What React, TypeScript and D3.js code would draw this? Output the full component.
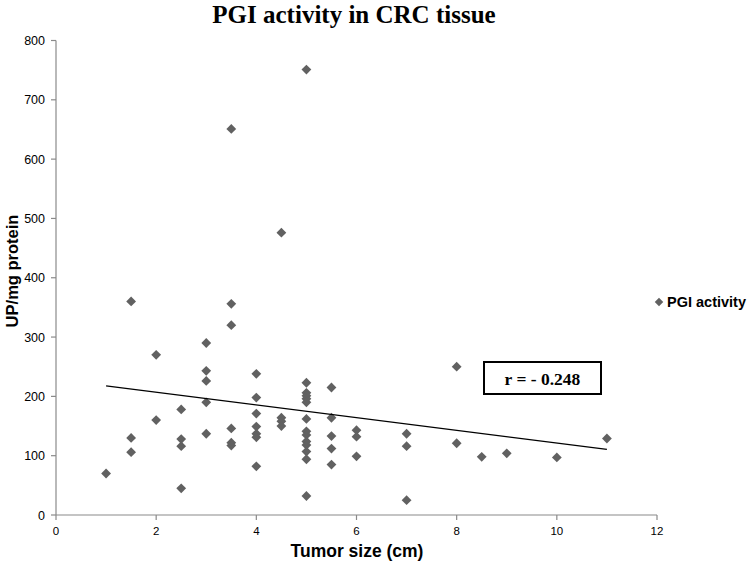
import React from "react";
import * as d3 from "d3";

const W = 753;
const H = 566;

const title = "PGI activity in CRC tissue";
const xTitle = "Tumor size (cm)";
const yTitle = "UP/mg protein";
const seriesName = "PGI activity";
const rLabel = "r = - 0.248";

const xTicks = [0, 2, 4, 6, 8, 10, 12];
const yTicks = [0, 100, 200, 300, 400, 500, 600, 700, 800];

// tumor size (cm) for each group, and the PGI activity values measured at that size
const sizes = [1, 1.5, 2, 2.5, 3, 3.5, 4, 4.5, 5, 5.5, 6, 7, 8, 8.5, 9, 10, 11];
const activity: number[][] = [
  [70],
  [360, 130, 106],
  [270, 160],
  [178, 128, 116, 45],
  [290, 243, 226, 190, 137],
  [651, 356, 320, 146, 122, 117],
  [238, 198, 171, 149, 137, 131, 82],
  [476, 164, 158, 150],
  [751, 223, 206, 201, 196, 190, 162, 141, 135, 124, 118, 107, 94, 32],
  [215, 164, 133, 112, 85],
  [143, 132, 99],
  [137, 116, 25],
  [250, 121],
  [98],
  [104],
  [97],
  [129],
];

export default function App() {
  const x = d3.scaleLinear().domain([0, 12]).range([56, 657]);
  const y = d3.scaleLinear().domain([0, 800]).range([515, 40.5]);

  const points = sizes.flatMap((s, i) => activity[i].map((v) => ({ s, v })));

  // least squares trend line
  const mx = d3.mean(points, (p) => p.s) as number;
  const my = d3.mean(points, (p) => p.v) as number;
  const sxy = d3.sum(points, (p) => (p.s - mx) * (p.v - my));
  const sxx = d3.sum(points, (p) => (p.s - mx) * (p.s - mx));
  const slope = sxy / sxx;
  const icpt = my - slope * mx;
  const xMin = d3.min(sizes) as number;
  const xMax = d3.max(sizes) as number;
  const line = d3
    .line<number>()
    .x((d) => x(d))
    .y((d) => y(icpt + slope * d));

  const diamond = d3.symbol(d3.symbolSquare, 48)() as string;
  const axisColor = "#8a8a8a";
  const markColor = "#616161";

  return (
    <svg
      width={W}
      height={H}
      style={{ position: "absolute", left: 0, top: 0, background: "#fff" }}
      fontFamily="'Liberation Sans', Arial, sans-serif"
    >
      <rect width={W} height={H} fill="#fff" />
      <text
        x={354}
        y={23}
        textAnchor="middle"
        fontFamily="'Liberation Serif', 'Times New Roman', serif"
        fontWeight="bold"
        fontSize={25}
        fill="#000"
      >
        {title}
      </text>

      {/* y axis */}
      <line x1={x(0)} x2={x(0)} y1={y(0)} y2={y(800)} stroke={axisColor} strokeWidth={1.2} />
      {yTicks.map((t) => (
        <g key={"y" + t}>
          <line x1={x(0) - 5} x2={x(0)} y1={y(t)} y2={y(t)} stroke={axisColor} strokeWidth={1.2} />
          <text x={45} y={y(t) + 4.5} textAnchor="end" fontSize={12.5} fill="#000">
            {t}
          </text>
        </g>
      ))}

      {/* x axis */}
      <line x1={x(0)} x2={x(12)} y1={y(0)} y2={y(0)} stroke={axisColor} strokeWidth={1.2} />
      {xTicks.map((t) => (
        <g key={"x" + t}>
          <line x1={x(t)} x2={x(t)} y1={y(0)} y2={y(0) + 5} stroke={axisColor} strokeWidth={1.2} />
          <text
            x={x(t)}
            y={535}
            textAnchor="middle"
            fontSize={11.5}
            fontFamily="'Liberation Sans Narrow', 'Arial Narrow', 'Liberation Sans', Arial, sans-serif"
            fill="#000"
          >
            {t}
          </text>
        </g>
      ))}

      <text x={357} y={557} textAnchor="middle" fontWeight="bold" fontSize={17.5} fill="#000">
        {xTitle}
      </text>
      <text
        transform="translate(18,271) rotate(-90)"
        textAnchor="middle"
        fontWeight="bold"
        fontSize={16.5}
        fill="#000"
      >
        {yTitle}
      </text>

      {/* points */}
      {points.map((p, i) => (
        <path
          key={i}
          d={diamond}
          transform={`translate(${x(p.s)},${y(p.v)}) rotate(45)`}
          fill={markColor}
        />
      ))}

      {/* trend line */}
      <path d={line([xMin, xMax]) as string} fill="none" stroke="#000" strokeWidth={1.2} />

      {/* r box */}
      <rect x={484} y={362} width={117} height={32} fill="#fff" stroke="#000" strokeWidth={2} />
      <text
        x={542.5}
        y={384.5}
        textAnchor="middle"
        fontFamily="'Liberation Serif', 'Times New Roman', serif"
        fontWeight="bold"
        fontSize={17.5}
        fill="#000"
      >
        {rLabel}
      </text>

      {/* legend */}
      <path d={d3.symbol(d3.symbolSquare, 36)() as string} transform="translate(659,302) rotate(45)" fill={markColor} />
      <text x={667} y={307} fontWeight="bold" fontSize={14.5} fill="#000">
        {seriesName}
      </text>
    </svg>
  );
}
